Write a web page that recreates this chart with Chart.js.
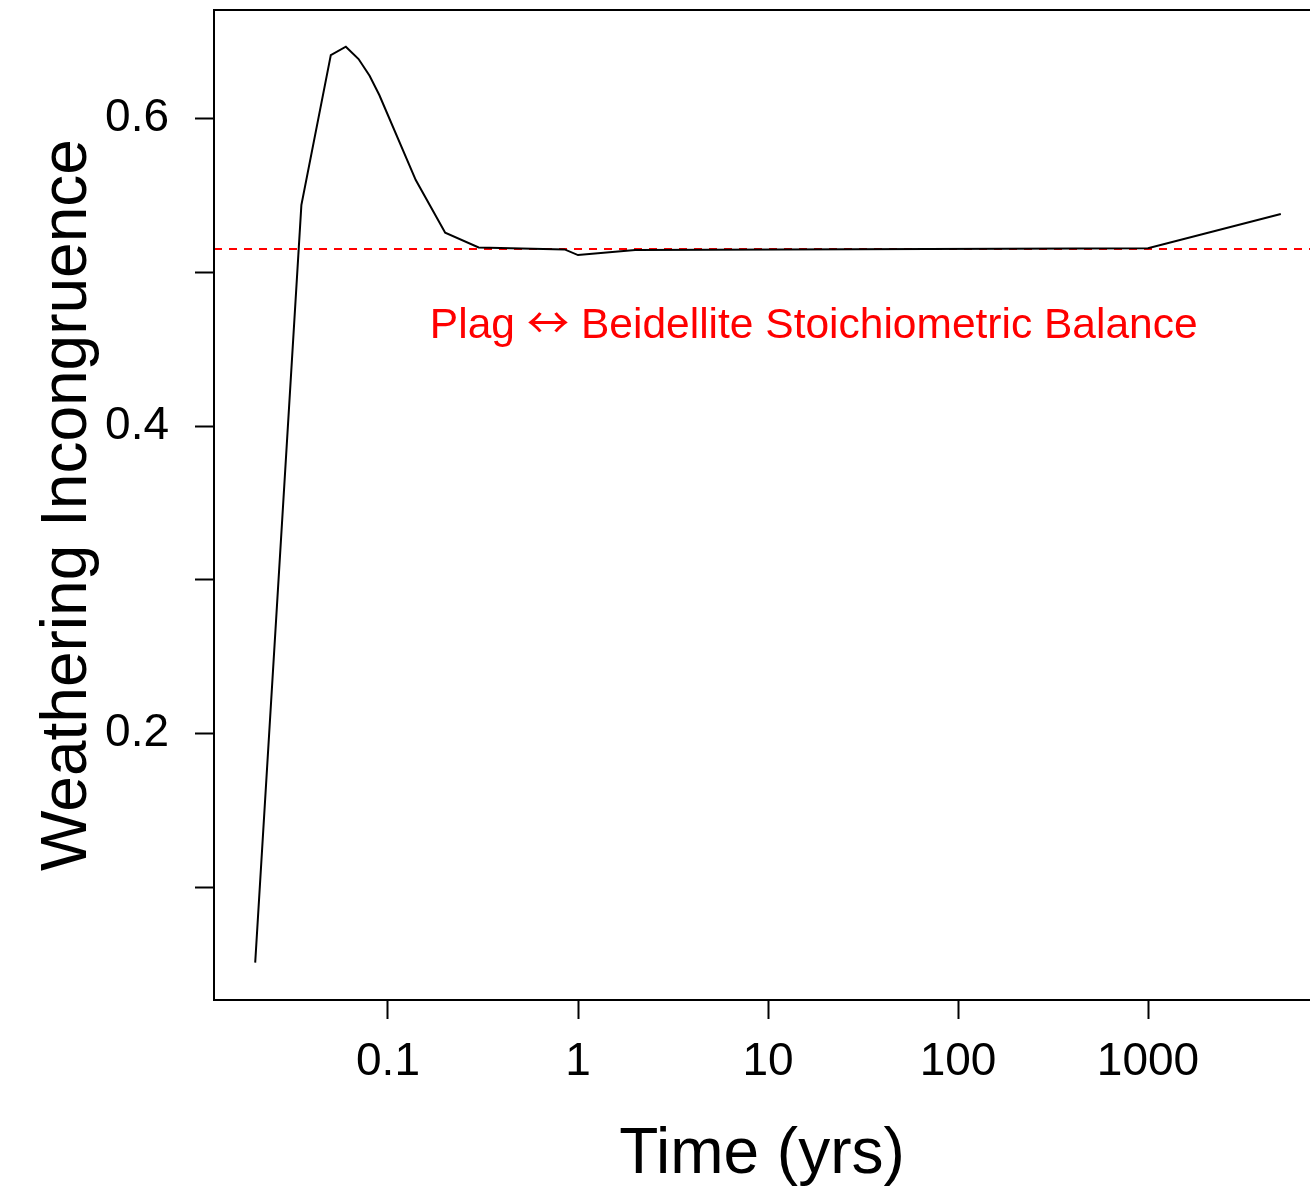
<!DOCTYPE html>
<html>
<head>
<meta charset="utf-8">
<title>Weathering Incongruence</title>
<script src="https://cdn.jsdelivr.net/npm/chart.js@4.4.1/dist/chart.umd.min.js"></script>
<style>
    html, body { margin: 0; padding: 0; background: #fff; overflow: hidden; }
    canvas { display: block; }
</style>
</head>
<body>
<canvas id="incongruence-chart" width="1310" height="1191"></canvas>
<script>
// Model output: weathering incongruence through time
const times = [0.02, 0.035, 0.05, 0.06, 0.07, 0.08, 0.09, 0.14, 0.2, 0.3, 0.85, 1, 2, 1000, 5000];
const incongruence = [0.051, 0.5437, 0.6413, 0.6467, 0.6387, 0.6278, 0.6153, 0.560, 0.5257, 0.5162, 0.5149, 0.5112, 0.5145, 0.5156, 0.5379];

// Stoichiometric balance for plagioclase -> beidellite
const balanceValue = 0.5152;
const balanceLabel = ['Plag', '\u2194', 'Beidellite Stoichiometric Balance'];
const balanceLabelAt = { time: 17.4, value: 0.4574 };

// Axis ranges and ticks
const timeRange = [0.01214, 7122];
const valueRange = [0.0267, 0.6706];
const timeTicks = [0.1, 1, 10, 100, 1000];
const timeTickLabels = ['0.1', '1', '10', '100', '1000'];
const valueTicks = [0.1, 0.2, 0.3, 0.4, 0.5, 0.6];
const valueTickLabels = ['', '0.2', '', '0.4', '', '0.6'];

const FONT = "'Liberation Sans', Arial, Helvetica, sans-serif";
const ARROW_FONT = "'Noto Sans CJK JP', 'DejaVu Sans', sans-serif";
Chart.defaults.font.family = FONT;
Chart.defaults.color = '#000';

// box around the plot (right side falls off the canvas)
const frame = {
    id: 'frame',
    afterDraw(chart) {
        const { ctx, chartArea: a } = chart;
        ctx.save();
        ctx.strokeStyle = '#000';
        ctx.lineWidth = 2;
        ctx.beginPath();
        ctx.moveTo(a.right + 2, a.top);
        ctx.lineTo(a.left, a.top);
        ctx.lineTo(a.left, a.bottom);
        ctx.lineTo(a.right + 2, a.bottom);
        ctx.stroke();
        ctx.restore();
    }
};

// red text under the balance line; the arrow comes from a font with a wide glyph
const balanceText = {
    id: 'balanceText',
    afterDatasetsDraw(chart) {
        const { ctx, scales } = chart;
        const cx = scales.x.getPixelForValue(balanceLabelAt.time);
        const y = scales.y.getPixelForValue(balanceLabelAt.value);
        const textFont = `42.5px ${FONT}`;
        const arrowFont = `42.5px ${ARROW_FONT}`;
        ctx.save();
        ctx.fillStyle = '#ff0000';
        ctx.textBaseline = 'alphabetic';
        ctx.textAlign = 'left';
        ctx.font = textFont;
        const left = balanceLabel[0] + ' ';
        const right = ' ' + balanceLabel[2];
        const wLeft = ctx.measureText(left).width;
        const wRight = ctx.measureText(right).width;
        ctx.font = arrowFont;
        const wArrow = ctx.measureText(balanceLabel[1]).width;
        let x = cx - (wLeft + wArrow + wRight) / 2;
        ctx.font = textFont;
        ctx.fillText(left, x, y);
        x += wLeft;
        ctx.font = arrowFont;
        ctx.fillText(balanceLabel[1], x, y);
        x += wArrow;
        ctx.font = textFont;
        ctx.fillText(right, x, y);
        ctx.restore();
    }
};

const tickGrid = {
    display: true,
    drawOnChartArea: false,
    drawTicks: true,
    tickLength: 19,
    tickWidth: 2,
    tickColor: '#000'
};

new Chart(document.getElementById('incongruence-chart'), {
    type: 'line',
    data: {
        datasets: [
            {
                data: times.map((t, i) => ({ x: t, y: incongruence[i] })),
                borderColor: '#000',
                borderWidth: 2,
                pointRadius: 0,
                tension: 0,
                fill: false
            },
            {
                data: timeRange.map(t => ({ x: t, y: balanceValue })),
                borderColor: '#ff0000',
                borderWidth: 2,
                borderDash: [8, 7],
                pointRadius: 0,
                fill: false
            }
        ]
    },
    options: {
        responsive: false,
        animation: false,
        devicePixelRatio: 1,
        layout: { padding: { top: 10, left: 0, right: 0, bottom: 0 } },
        plugins: { legend: { display: false }, tooltip: { enabled: false } },
        scales: {
            x: {
                type: 'logarithmic',
                min: timeRange[0],
                max: timeRange[1],
                afterBuildTicks: s => { s.ticks = timeTicks.map(v => ({ value: v })); },
                afterFit: s => {
                    s.height = 191;
                    s.paddingLeft = 0;
                    s.paddingRight = 0;
                },
                grid: tickGrid,
                border: { display: false },
                ticks: {
                    autoSkip: false,
                    maxRotation: 0,
                    padding: 16,
                    font: { size: 46 },
                    callback: (v, i) => timeTickLabels[i]
                },
                title: {
                    display: true,
                    text: 'Time (yrs)',
                    font: { size: 64, lineHeight: 1 },
                    padding: { top: 0, bottom: 4 }
                }
            },
            y: {
                type: 'linear',
                min: valueRange[0],
                max: valueRange[1],
                afterBuildTicks: s => { s.ticks = valueTicks.map(v => ({ value: v })); },
                afterFit: s => {
                    s.width = 214;
                    s.paddingTop = 0;
                    s.paddingBottom = 0;
                },
                grid: tickGrid,
                border: { display: false },
                ticks: {
                    autoSkip: false,
                    padding: 26,
                    font: { size: 46 },
                    callback: (v, i) => valueTickLabels[i]
                },
                title: {
                    display: true,
                    text: 'Weathering Incongruence',
                    font: { size: 64, lineHeight: 1 },
                    padding: { top: 36, bottom: 0 }
                }
            }
        }
    },
    plugins: [frame, balanceText]
});
</script>
</body>
</html>
